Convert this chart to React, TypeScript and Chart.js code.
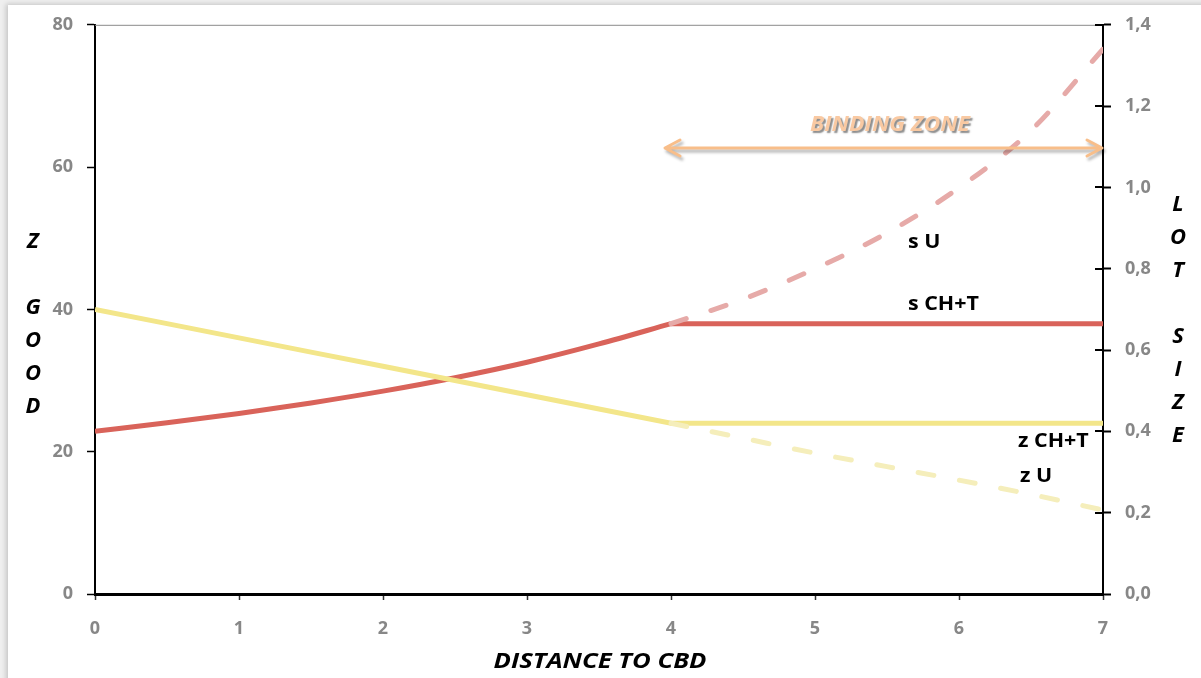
import React, { useEffect, useRef } from 'react';
import { Chart, registerables } from 'chart.js';

Chart.register(...registerables);

// ---- data ----
const distanceCHT = [0, 0.5, 1, 1.5, 2, 2.5, 3, 3.5, 4, 7];
const zCHT = [40, 38, 36, 34, 32, 30, 28, 26, 24, 24];
const sCHT = [0.4, 0.421, 0.444, 0.47, 0.499, 0.532, 0.57, 0.615, 0.665, 0.665];
const distanceU = [4, 4.5, 5, 5.5, 6, 6.5, 7];
const zU = [24, 21.9, 19.8, 17.9, 16.0, 14.0, 11.8];
const sU = [0.665, 0.725, 0.8, 0.888, 0.999, 1.14, 1.34];

const xTicks = [0, 1, 2, 3, 4, 5, 6, 7];
const leftTicks = [0, 20, 40, 60, 80];
const rightTicks = [0, 0.2, 0.4, 0.6, 0.8, 1.0, 1.2, 1.4];

const leftAxisTitle = ['Z', '', 'G', 'O', 'O', 'D'];
const rightAxisTitle = ['L', 'O', 'T', '', 'S', 'I', 'Z', 'E'];
const xAxisTitle = 'DISTANCE TO CBD';
const seriesLabels = ['s U', 's CH+T', 'z CH+T', 'z U'];
const bindingZoneLabel = 'BINDING ZONE';
const bindingZone = [4, 7];

const FONT = '"Open Sans", "Liberation Sans", sans-serif';

const pts = (xs: number[], ys: number[]) => xs.map((x, i) => ({ x, y: ys[i] }));
const kinkIndex = distanceCHT.indexOf(4);

function drawFitted(ctx: any, text: string, cx: number, cy: number, width: number) {
  const w = ctx.measureText(text).width;
  ctx.save();
  ctx.translate(cx, cy);
  ctx.scale(width / w, 1);
  ctx.textAlign = 'center';
  ctx.fillText(text, 0, 0);
  ctx.restore();
}

const decorPlugin = {
  id: 'decor',
  beforeDatasetsDraw(chart: any) {
    const { ctx, chartArea: a } = chart;
    ctx.save();
    ctx.strokeStyle = '#8a8a8a';
    ctx.lineWidth = 1;
    ctx.beginPath();
    ctx.moveTo(a.left, a.top + 0.5);
    ctx.lineTo(a.right, a.top + 0.5);
    ctx.stroke();
    ctx.restore();
  },
  afterDraw(chart: any) {
    const { ctx, chartArea: a, scales } = chart;
    const x = scales.x;
    const y1 = scales.y1;
    ctx.save();
    // inner half of right-axis tick marks
    ctx.strokeStyle = '#000';
    ctx.lineWidth = 2;
    y1.ticks.forEach((t: any) => {
      const py = Math.round(y1.getPixelForValue(t.value));
      ctx.beginPath();
      ctx.moveTo(a.right - 8, py);
      ctx.lineTo(a.right, py);
      ctx.stroke();
    });

    // binding zone arrow
    const x0 = x.getPixelForValue(bindingZone[0]) - 6;
    const x1 = x.getPixelForValue(bindingZone[1]) - 1;
    const ay = 148;
    ctx.shadowColor = 'rgba(0,0,0,0.3)';
    ctx.shadowOffsetX = 2;
    ctx.shadowOffsetY = 3;
    ctx.shadowBlur = 3;
    ctx.strokeStyle = '#f8be8a';
    ctx.lineWidth = 3;
    ctx.lineCap = 'round';
    ctx.lineJoin = 'round';
    ctx.beginPath();
    ctx.moveTo(x0, ay);
    ctx.lineTo(x1, ay);
    ctx.moveTo(x0 + 15, ay - 8);
    ctx.lineTo(x0, ay);
    ctx.lineTo(x0 + 15, ay + 8);
    ctx.moveTo(x1 - 15, ay - 8);
    ctx.lineTo(x1, ay);
    ctx.lineTo(x1 - 15, ay + 8);
    ctx.stroke();

    // binding zone text
    ctx.font = `italic bold 21px ${FONT}`;
    ctx.textBaseline = 'middle';
    ctx.shadowColor = 'rgba(90,90,90,0.7)';
    ctx.shadowOffsetX = 2;
    ctx.shadowOffsetY = 2;
    ctx.shadowBlur = 1.5;
    ctx.fillStyle = '#f9c9a2';
    drawFitted(ctx, bindingZoneLabel, 890, 125, 160);
    ctx.shadowColor = 'transparent';

    // series labels
    ctx.fillStyle = '#000';
    ctx.font = `bold 20px ${FONT}`;
    ctx.textBaseline = 'middle';
    const labelPos = [
      [908, 242],
      [908, 304],
      [1018, 441],
      [1020, 476],
    ];
    seriesLabels.forEach((s, i) => {
      ctx.save();
      ctx.translate(labelPos[i][0], labelPos[i][1]);
      ctx.scale(1.07, 1);
      ctx.textAlign = 'left';
      ctx.fillText(s, 0, 0);
      ctx.restore();
    });

    // axis titles
    ctx.font = `italic bold 22px ${FONT}`;
    ctx.textAlign = 'center';
    leftAxisTitle.forEach((c, i) => ctx.fillText(c, 33, 242 + i * 33));
    rightAxisTitle.forEach((c, i) => ctx.fillText(c, 1178, 205 + i * 33));
    ctx.font = `italic bold 21px ${FONT}`;
    drawFitted(ctx, xAxisTitle, (a.left + a.right) / 2 + 1, 662, 213);
    ctx.restore();
  },
};

export default function App() {
  const ref = useRef<HTMLCanvasElement | null>(null);
  useEffect(() => {
    if (!ref.current) return;
    const tickFont = { family: FONT, size: 18, weight: 'bold' as const };
    const chart = new Chart(ref.current, {
      type: 'line',
      data: {
        datasets: [
          {
            label: 's U',
            data: pts(distanceU, sU),
            yAxisID: 'y1',
            borderColor: '#e6aaa8',
            borderWidth: 5,
            borderDash: [16, 26],
            borderCapStyle: 'round',
            cubicInterpolationMode: 'monotone',
            pointRadius: 0,
            fill: false,
          },
          {
            label: 'z U',
            data: pts(distanceU, zU),
            yAxisID: 'y',
            borderColor: '#f5eebb',
            borderWidth: 5,
            borderDash: [16, 26],
            borderCapStyle: 'round',
            cubicInterpolationMode: 'monotone',
            pointRadius: 0,
            fill: false,
          },
          {
            label: 'z CH+T',
            data: pts(distanceCHT, zCHT),
            yAxisID: 'y',
            borderColor: '#f3e68a',
            borderWidth: 5,
            pointRadius: 0,
            fill: false,
          },
          {
            label: 's CH+T (flat)',
            data: pts(distanceCHT.slice(kinkIndex), sCHT.slice(kinkIndex)),
            yAxisID: 'y1',
            borderColor: '#d9635a',
            borderWidth: 5,
            pointRadius: 0,
            fill: false,
          },
          {
            label: 's CH+T',
            data: pts(distanceCHT.slice(0, kinkIndex + 1), sCHT.slice(0, kinkIndex + 1)),
            yAxisID: 'y1',
            borderColor: '#d9635a',
            borderWidth: 5,
            cubicInterpolationMode: 'monotone',
            pointRadius: 0,
            fill: false,
          },
        ],
      },
      options: {
        responsive: false,
        animation: false,
        devicePixelRatio: 1,
        layout: { padding: { left: 0, right: 0, top: 23, bottom: 0 } },
        plugins: { legend: { display: false }, tooltip: { enabled: false } },
        scales: {
          x: {
            type: 'linear',
            min: 0,
            max: 7,
            afterBuildTicks: (s: any) => {
              s.ticks = xTicks.map((v) => ({ value: v }));
            },
            afterFit: (s: any) => {
              s.height = 84;
            },
            ticks: { font: tickFont, color: '#878787', padding: 18 },
            grid: {
              drawOnChartArea: false,
              drawTicks: true,
              tickLength: 6,
              tickColor: '#333',
              tickWidth: 1.5,
            },
            border: { display: true, color: '#000', width: 3 },
          },
          y: {
            type: 'linear',
            position: 'left',
            min: 0,
            max: 80,
            afterBuildTicks: (s: any) => {
              s.ticks = leftTicks.map((v) => ({ value: v }));
            },
            afterFit: (s: any) => {
              s.width = 95;
            },
            ticks: { font: tickFont, color: '#878787', padding: 14 },
            grid: {
              drawOnChartArea: false,
              drawTicks: true,
              tickLength: 8,
              tickColor: '#000',
              tickWidth: 1.5,
            },
            border: { display: true, color: '#000', width: 2 },
          },
          y1: {
            type: 'linear',
            position: 'right',
            min: 0,
            max: 1.4,
            afterBuildTicks: (s: any) => {
              s.ticks = rightTicks.map((v) => ({ value: v }));
            },
            afterFit: (s: any) => {
              s.width = 98;
            },
            ticks: {
              font: tickFont,
              color: '#878787',
              padding: 14,
              callback: (v: any) => Number(v).toFixed(1).replace('.', ','),
            },
            grid: {
              drawOnChartArea: false,
              drawTicks: true,
              tickLength: 8,
              tickColor: '#000',
              tickWidth: 2,
            },
            border: { display: true, color: '#000', width: 2 },
          },
        },
      },
      plugins: [decorPlugin],
    } as any);
    return () => chart.destroy();
  }, []);

  return (
    <div
      style={{
        position: 'fixed',
        left: 0,
        top: 0,
        width: 1201,
        height: 678,
        background: '#efefef',
        overflow: 'hidden',
      }}
    >
      <div
        style={{
          position: 'absolute',
          left: 8,
          top: 5,
          width: 1200,
          height: 680,
          background: '#fff',
          boxShadow: '-2px -1px 5px rgba(0,0,0,0.18)',
        }}
      />
      <canvas
        ref={ref}
        width={1201}
        height={678}
        style={{ position: 'absolute', left: 0, top: 0, width: 1201, height: 678 }}
      />
    </div>
  );
}
